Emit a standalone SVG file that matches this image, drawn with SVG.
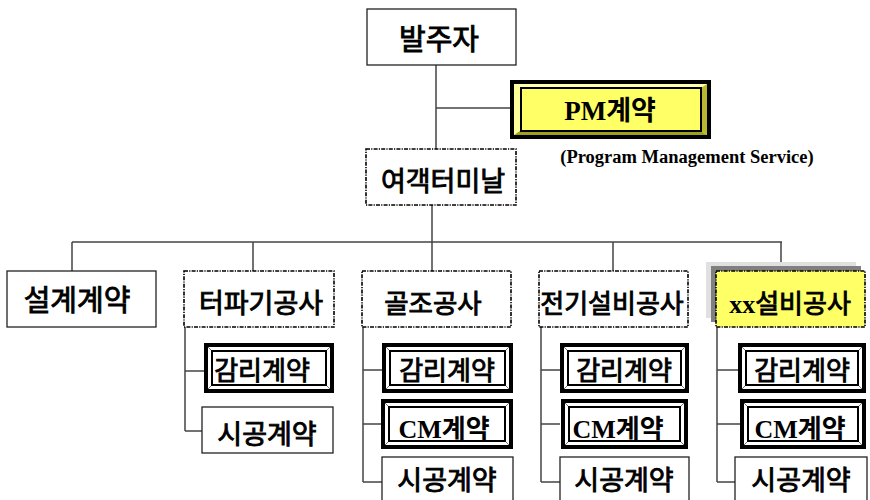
<svg xmlns="http://www.w3.org/2000/svg" width="870" height="500" viewBox="0 0 870 500">
<style>
.t{font-family:"Noto Sans CJK KR","Noto Sans",sans-serif;fill:#000;stroke:#000;stroke-width:0.9;text-anchor:middle;font-weight:normal}
.m{font-family:"Liberation Serif","Noto Sans CJK KR",serif;fill:#000;text-anchor:middle;font-weight:bold}
.plain{fill:#fff;stroke:#222;stroke-width:1.3}
.dd{fill:#fff;stroke:#000;stroke-width:1.6;stroke-dasharray:4 1.2 1.2 1.2}
.ln{fill:none;stroke:#444;stroke-width:1.5}
.outer{fill:#000}
.frame{fill:#fff}
.inner{fill:#fff;stroke:#000;stroke-width:2}
.diag{stroke:#777;stroke-width:1}
</style>
<rect width="870" height="500" fill="#fff"/>
<g id="connectors" class="ln">
<path d="M436,65V149M436,108H510M432,205V242M72,242H782M72,242V271M253,242V271M432,242V271M613,242V271M781,242V262"/>
<path d="M185,327V431M185,371H204M185,431H202"/>
<path d="M363,327V482M363,370H382M363,424H381M363,482H382"/>
<path d="M541,327V482M541,370H560M541,424H560M541,482H560"/>
<path d="M717,327V482M717,370H738M717,424H740M717,482H735"/>
</g>
<g id="n-owner"><rect class="plain" x="367" y="9" width="149" height="56"/><text class="t" x="439" y="50" font-size="29">발주자</text></g>
<g id="n-pm">
<rect class="outer" x="510" y="80" width="201" height="59"/>
<rect x="514" y="84" width="193" height="51" fill="#ffff66"/>
<polygon points="514,84 707,84 701,88 520,88" fill="#ffffb0"/>
<polygon points="514,84 520,88 520,131 514,135" fill="#ffff99"/>
<polygon points="514,135 520,131 701,131 707,135" fill="#a0a020"/>
<polygon points="707,84 707,135 701,131 701,88" fill="#b8b830"/>
<rect x="521" y="88" width="180" height="43" fill="#ffff66" stroke="#000" stroke-width="2"/>
<text class="m" x="610" y="120" font-size="27">PM계약</text>
</g>
<text class="m" x="687" y="163" font-size="18.5">(Program Management Service)</text>
<g id="n-terminal"><rect class="dd" x="366" y="149" width="150" height="56"/><text class="t" x="443" y="191" font-size="27">여객터미날</text></g>
<g id="n-design"><rect class="plain" x="7" y="271" width="149" height="56"/><text class="t" x="77" y="311" font-size="29">설계계약</text></g>
<g id="n-excav"><rect class="dd" x="184" y="271" width="150" height="56"/><text class="t" x="261" y="313" font-size="27">터파기공사</text></g>
<g id="n-frame"><rect class="dd" x="362" y="271" width="149" height="56"/><text class="t" x="433" y="313" font-size="26.5">골조공사</text></g>
<g id="n-elec"><rect class="dd" x="539" y="271" width="149" height="56"/><text class="t" x="612" y="313" font-size="26">전기설비공사</text></g>
<g id="n-xx">
<rect x="706" y="262" width="150" height="56" fill="#e0e0e0"/>
<rect x="711" y="266" width="150" height="56" fill="#808080"/>
<rect class="dd" x="716" y="271" width="149" height="56" style="fill:#ffff66"/>
<text class="m" x="790" y="313" font-size="26">xx<tspan class="t" style="text-anchor:start">설비공사</tspan></text>
</g>
<g id="n-a-gamri">
<rect class="outer" x="204" y="343" width="130" height="50"/><rect class="frame" x="208" y="347" width="122" height="42"/>
<path class="diag" d="M208,347L212,351M330,347L326,351M208,389L212,385M330,389L326,385"/>
<rect class="inner" x="212" y="351" width="114" height="34"/>
<text class="t" x="262" y="380" font-size="26">감리계약</text>
</g>
<g id="n-a-sigong"><rect class="plain" x="202" y="407" width="131" height="46"/><text class="t" x="267" y="444" font-size="27">시공계약</text></g>
<g id="n-b-gamri">
<rect class="outer" x="382" y="343" width="131" height="50"/><rect class="frame" x="386" y="347" width="123" height="42"/>
<path class="diag" d="M386,347L390,351M509,347L505,351M386,389L390,385M509,389L505,385"/>
<rect class="inner" x="390" y="351" width="115" height="34"/>
<text class="t" x="447" y="380" font-size="26">감리계약</text>
</g>
<g id="n-b-cm">
<rect class="outer" x="381" y="399" width="132" height="50"/><rect class="frame" x="385" y="403" width="124" height="42"/>
<path class="diag" d="M385,403L389,407M509,403L505,407M385,445L389,441M509,445L505,441"/>
<rect class="inner" x="389" y="407" width="116" height="34"/>
<text class="m" x="444" y="438" font-size="26">CM계약</text>
</g>
<g id="n-b-sigong"><rect class="plain" x="382" y="457" width="131" height="50"/><text class="t" x="447" y="490" font-size="27">시공계약</text></g>
<g id="n-c-gamri">
<rect class="outer" x="560" y="343" width="129" height="50"/><rect class="frame" x="564" y="347" width="121" height="42"/>
<path class="diag" d="M564,347L568,351M685,347L681,351M564,389L568,385M685,389L681,385"/>
<rect class="inner" x="568" y="351" width="113" height="34"/>
<text class="t" x="624" y="380" font-size="26">감리계약</text>
</g>
<g id="n-c-cm">
<rect class="outer" x="561" y="399" width="127" height="50"/><rect class="frame" x="565" y="403" width="119" height="42"/>
<path class="diag" d="M565,403L569,407M684,403L680,407M565,445L569,441M684,445L680,441"/>
<rect class="inner" x="569" y="407" width="111" height="34"/>
<text class="m" x="618" y="438" font-size="26">CM계약</text>
</g>
<g id="n-c-sigong"><rect class="plain" x="560" y="457" width="129" height="50"/><text class="t" x="624" y="490" font-size="27">시공계약</text></g>
<g id="n-d-gamri">
<rect class="outer" x="738" y="343" width="128" height="50"/><rect class="frame" x="742" y="347" width="120" height="42"/>
<path class="diag" d="M742,347L746,351M862,347L858,351M742,389L746,385M862,389L858,385"/>
<rect class="inner" x="746" y="351" width="112" height="34"/>
<text class="t" x="802" y="380" font-size="26">감리계약</text>
</g>
<g id="n-d-cm">
<rect class="outer" x="740" y="399" width="126" height="50"/><rect class="frame" x="744" y="403" width="118" height="42"/>
<path class="diag" d="M744,403L748,407M862,403L858,407M744,445L748,441M862,445L858,441"/>
<rect class="inner" x="748" y="407" width="110" height="34"/>
<text class="m" x="800" y="438" font-size="26">CM계약</text>
</g>
<g id="n-d-sigong"><rect class="plain" x="735" y="457" width="132" height="50"/><text class="t" x="801" y="490" font-size="27">시공계약</text></g>
</svg>
